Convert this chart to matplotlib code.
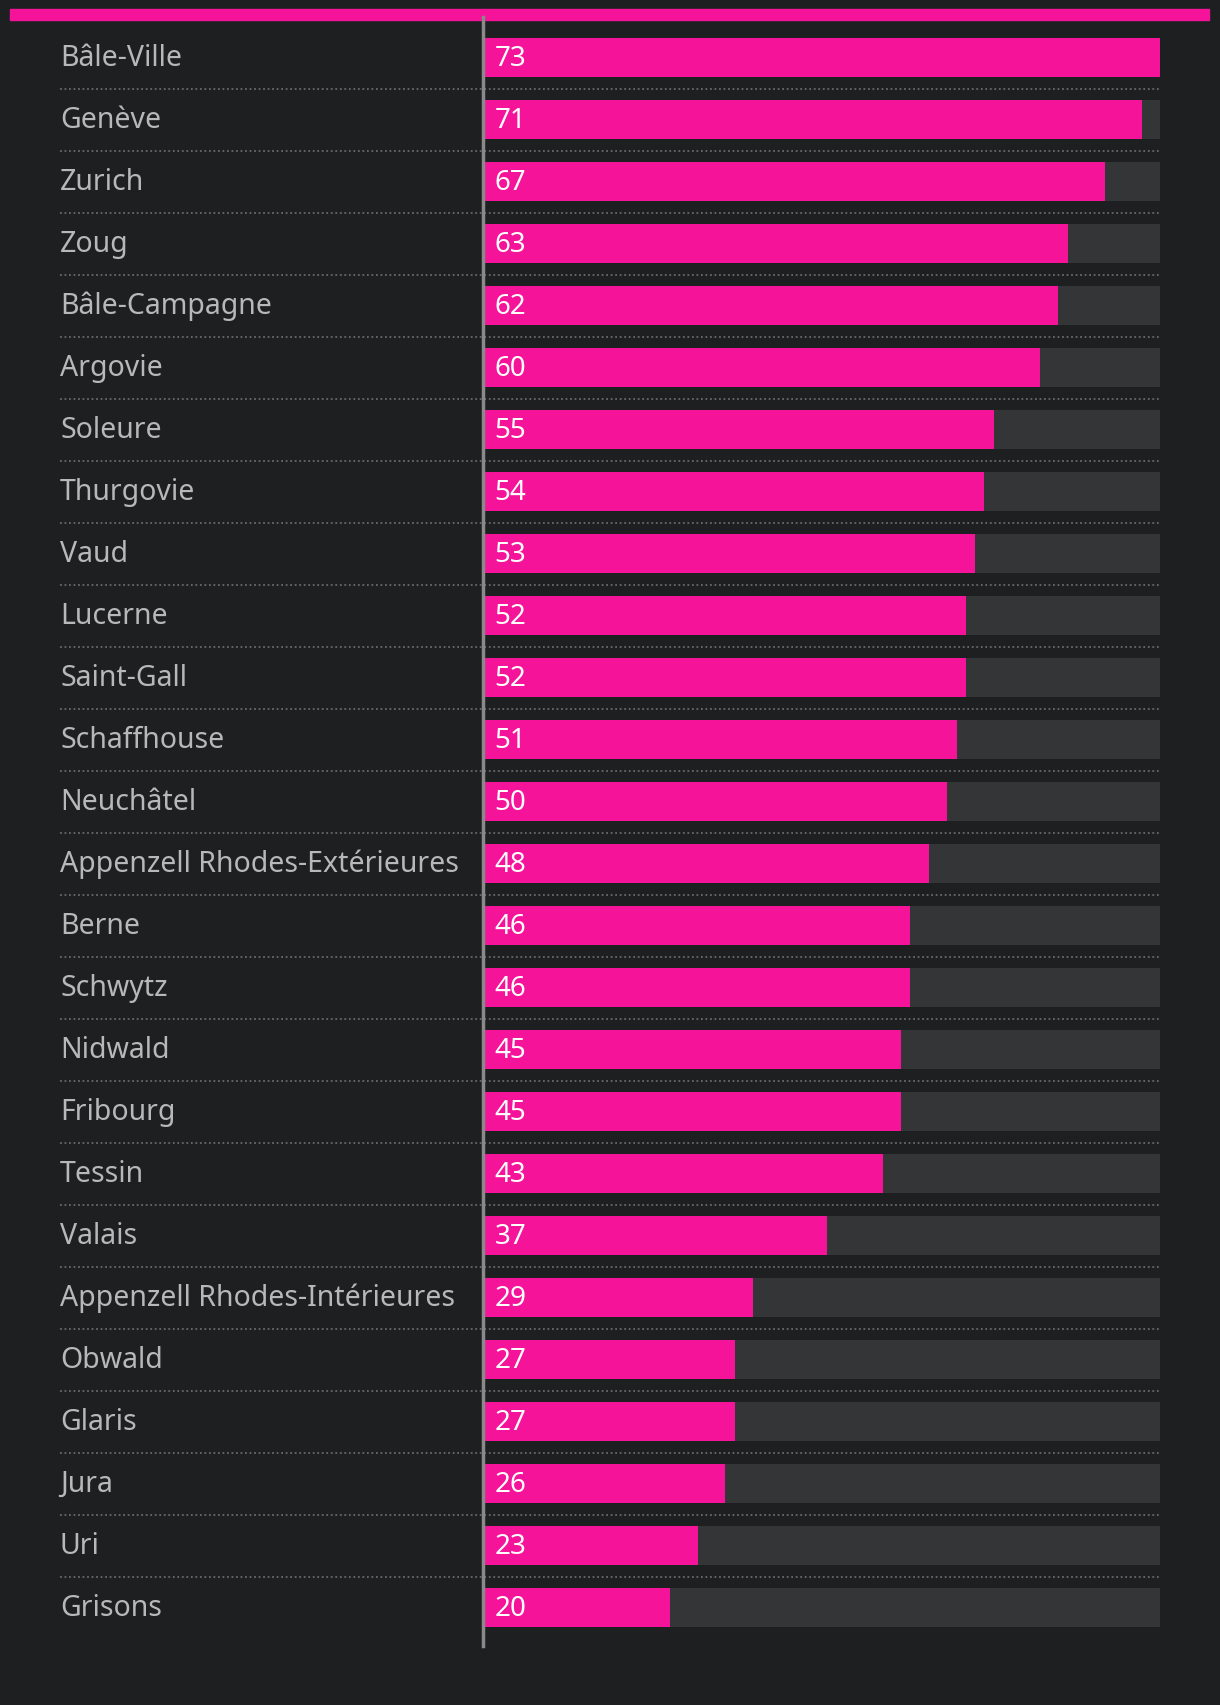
import matplotlib
matplotlib.use("Agg")
import matplotlib.pyplot as plt
from matplotlib.patches import Rectangle

plt.rcParams['font.family'] = ['Noto Sans', 'DejaVu Sans']

cantons = ["Bâle-Ville", "Genève", "Zurich", "Zoug", "Bâle-Campagne", "Argovie",
           "Soleure", "Thurgovie", "Vaud", "Lucerne", "Saint-Gall", "Schaffhouse",
           "Neuchâtel", "Appenzell Rhodes-Extérieures", "Berne", "Schwytz",
           "Nidwald", "Fribourg", "Tessin", "Valais", "Appenzell Rhodes-Intérieures",
           "Obwald", "Glaris", "Jura", "Uri", "Grisons"]
values = [73, 71, 67, 63, 62, 60, 55, 54, 53, 52, 52, 51, 50, 48, 46, 46,
          45, 45, 43, 37, 29, 27, 27, 26, 23, 20]

bg = "#1e1f21"
pink = "#f5139a"
track = "#343537"

W, H = 1220, 1706
fig = plt.figure(figsize=(W/100, H/100), dpi=100, facecolor=bg)

# axes placed in pixel terms
x0, x1 = 485, 1160
ytop, ybot = 27.8, 1639.5
ax = fig.add_axes([x0/W, 1-ybot/H, (x1-x0)/W, (ybot-ytop)/H])
ax.set_facecolor(bg)
n = len(cantons)
vmax = max(values)
ys = list(range(n))

ax.barh(ys, [vmax]*n, height=0.63, color=track, left=0)
ax.barh(ys, values, height=0.63, color=pink, left=0)
ax.set_xlim(0, vmax)
ax.set_ylim(n-0.5, -0.5)
ax.axis("off")

lab_x = (60-x0)/(x1-x0)
tr = ax.get_yaxis_transform()
for i, (c, v) in enumerate(zip(cantons, values)):
    ax.text(lab_x, i, c, transform=tr, ha="left", va="center",
            fontsize=20.5, color="#b8b8b8", clip_on=False)
    ax.text(1.05, i, str(v), ha="left", va="center", fontsize=20, color="white")
    if i < n-1:
        ax.plot([lab_x, 1], [i+0.5, i+0.5], transform=tr, color="#6a6a6a",
                lw=1.3, ls=(0, (1, 1.5)), clip_on=False)

# vertical axis line
fig.add_artist(plt.Line2D([483/W, 483/W], [1-18/H, 1-1647/H], color="#8a8a8a", lw=2.5))
# top pink strip
fig.add_artist(Rectangle((10/W, 1-21/H), 1199/W, 11/H, color=pink, transform=fig.transFigure))

fig.savefig("out.png", dpi=100, facecolor=bg)
